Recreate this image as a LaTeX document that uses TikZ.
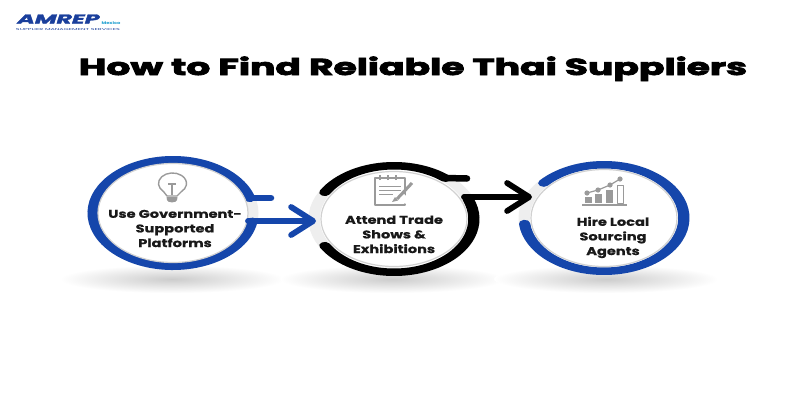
\documentclass[tikz,border=0pt]{standalone}
\usepackage{fontspec}
\usepackage{graphicx}
\setmainfont{Poppins}
\usetikzlibrary{arrows.meta,shapes.geometric}
\definecolor{ringblue}{HTML}{1546AB}
\definecolor{ringbase}{HTML}{EEEEEE}
\definecolor{icongray}{HTML}{9A9A9A}
\definecolor{logocyan}{HTML}{1E9FD0}
\definecolor{logonavy}{HTML}{1A3F9C}
\newcommand{\widelines}[2]{\scalebox{#1}[1]{\begin{tabular}{@{}c@{}}#2\end{tabular}}}
\tikzset{
  x=1pt,y=1pt,
  glow/.style={ellipse,minimum width=224pt,minimum height=28pt,inner sep=0pt,shade,inner color=black!20,outer color=white,draw=none},
  disk/.style={ellipse,minimum width=150pt,minimum height=99pt,inner sep=0pt,draw=black!18,line width=1.2pt,fill=white},
  ringline/.style={line width=7.5pt,line cap=round},
  lab/.style={font=\fontsize{11.2}{14.6}\selectfont\bfseries\addfontfeature{FakeBold=0.6},text=black!90,inner sep=0pt,align=center},
  flow/.style={line width=5.8pt,line cap=round,-{Straight Barb[length=22pt,width=28pt,round]}},
  stub/.style={line width=6.5pt,line cap=round},
  icon/.style={draw=icongray,line width=1.4pt,line join=round},
}
\begin{document}
\begin{tikzpicture}
\useasboundingbox (0,0) rectangle (800,400);
\fill[white] (0,0) rectangle (800,400);
% logo
\node[inner sep=0pt,text=logonavy,font=\bfseries\itshape\addfontfeature{FakeBold=2}] (logo) at (58.5,381) {\resizebox{82pt}{9pt}{AMREP}};
\node[inner sep=0pt,text=logocyan,font=\bfseries] (logomx) at (111,377.2) {\resizebox{19pt}{3pt}{Mexico}};
\node[inner sep=0pt,text=logonavy] (logosub) at (68,370.8) {\resizebox{104pt}{2pt}{SUPPLIER MANAGEMENT SERVICES}};
% title
\node[inner sep=0pt,anchor=base,font=\bfseries] (title) at (413,325) {\resizebox{668pt}{18.5pt}{\addfontfeature{FakeBold=3}How to Find Reliable Thai Suppliers}};
% glows
\node[glow] (g1) at (172,121) {};
\node[glow] (g2) at (392,121) {};
\node[glow] (g3) at (606,121) {};
% base rings
\foreach \cx/\cy in {173/187,394/181,604/182}{
  \begin{scope}[transform canvas={shift={(\cx,\cy)},xscale=1.5}]
    \draw[ringline,ringbase] (0,0) circle[radius=53.25];
  \end{scope}
}
% coloured rings
\begin{scope}[transform canvas={shift={(173,187)},xscale=1.5}]
  \draw[ringline,ringblue] (16:53.25) arc[start angle=16,end angle=351,radius=53.25];
\end{scope}
\begin{scope}[transform canvas={shift={(394,181)},xscale=1.5}]
  \draw[ringline,black] (150:53.25) arc[start angle=150,end angle=50,radius=53.25];
  \draw[ringline,black] (210:53.25) arc[start angle=210,end angle=382,radius=53.25];
\end{scope}
\begin{scope}[transform canvas={shift={(604,182)},xscale=1.5}]
  \draw[ringline,ringblue] (139:53.25) arc[start angle=139,end angle=-174,radius=53.25];
\end{scope}
% disks
\node[disk] (d1) at (173,187) {};
\node[disk,minimum width=146pt,minimum height=95pt] (d2) at (394,181) {};
\node[disk,minimum width=146pt,minimum height=97pt] (d3) at (604,182) {};
% connector end points
\coordinate (s1a) at (250,202); \coordinate (s1b) at (271,202);
\coordinate (a1a) at (248,179); \coordinate (a1b) at (316,179);
\coordinate (s2a) at (445,222); \coordinate (s2b) at (467,221.5);
\coordinate (a2a) at (464,203); \coordinate (a2b) at (532,203);
\draw[stub,ringblue] (s1a) -- (s1b);
\draw[flow,ringblue] (a1a) -- (a1b);
\draw[stub,black] (s2a) -- (s2b);
\draw[flow,black] (a2a) -- (a2b);
% labels
\node[lab] (t1) at (175,170.5) {\widelines{1.3}{Use Government-\\Supported\\Platforms}};
\node[lab] (t2) at (394,164.5) {\widelines{1.3}{Attend Trade\\Shows \&\\Exhibitions}};
\node[lab] (t3) at (613,162.5) {\widelines{1.3}{Hire Local\\Sourcing\\Agents}};
% bulb icon
\draw[icon] (163.5,208.5) arc[start angle=230,end angle=-50,x radius=14,y radius=10.5] -- (177,204) -- (167,204) -- cycle;
\draw[icon] (168,216) -- (176,216) (172,216) -- (172,205);
\fill[icongray] (166.5,203) -- (177.5,203) -- (177,200) arc[start angle=0,end angle=-180,x radius=5,y radius=2.4] -- cycle;
% notepad icon
\draw[icon] (375,222) rectangle (405,195);
\draw[icon,line width=1.2pt] (380,220) -- (380,225) (388,220) -- (388,225) (396,220) -- (396,225);
\draw[icon,line width=1pt] (379,214) -- (401,214) (379,210) -- (401,210) (379,206) -- (393,206);
\fill[white] (405,196) -- (410,200) -- (402,208) -- (398,203) -- cycle;
\draw[draw=icongray,line width=3pt] (412,217) -- (397,201);
\fill[icongray] (398,199.5) -- (395,203) -- (392,198) -- cycle;
% chart icon
\draw[icongray,line width=1.2pt] (582,195) -- (627,195);
\fill[icongray] (585,197) rectangle (592,203);
\fill[icongray] (595,197) rectangle (602,206);
\fill[icongray] (606,197) rectangle (613,210);
\draw[icon,line width=1pt] (617.5,197) rectangle (623.5,214.5);
\draw[icongray,line width=1.2pt] (587,207) -- (598,210) -- (610,215) -- (620,221);
\foreach \px/\py in {587/207,598/210,610/215,620/221}{\fill[icongray] (\px,\py) circle[radius=2.6];}
\end{tikzpicture}
\end{document}
